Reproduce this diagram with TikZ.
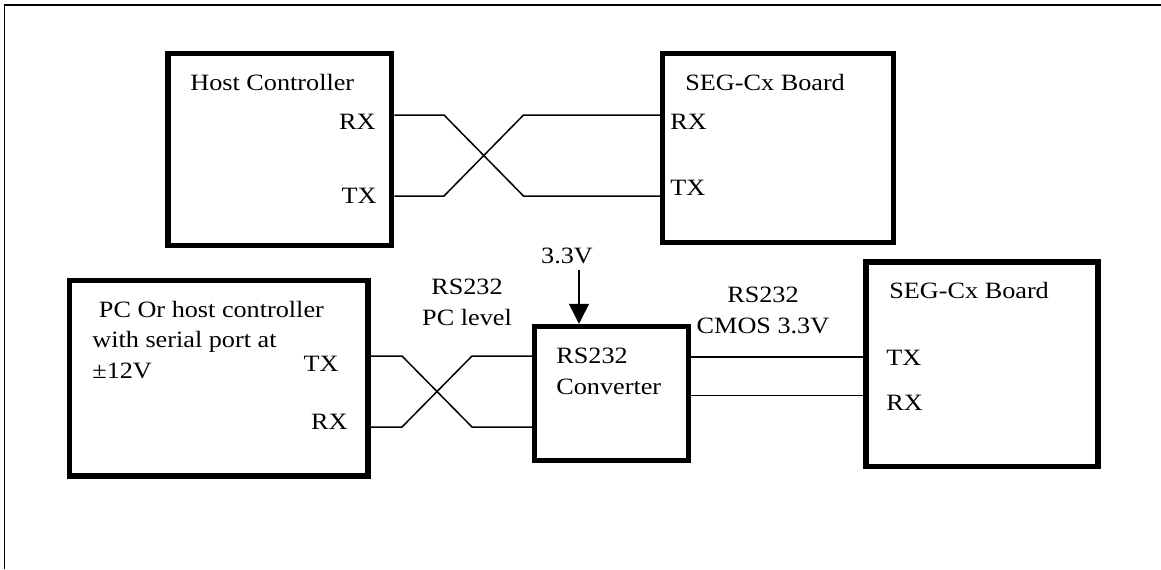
\documentclass[tikz,border=0pt]{standalone}
\usepackage{fontspec}
\setmainfont{Liberation Serif}[FakeStretch=1.12]
\usetikzlibrary{arrows.meta}

\tikzset{
    box/.style={draw, line width=2.75pt, inner sep=0pt},
    wire/.style={line width=0.75pt},
    lbl/.style={inner sep=0pt, font=\fontsize{11.7}{15.25}\selectfont},
}

\begin{document}
\begin{tikzpicture}[x=0.5pt, y=-0.5pt]
    \useasboundingbox (0,0) rectangle (1161,569);
    % frame
    \draw[line width=0.75pt] (4.5,569) -- (4.5,5) -- (1161,5);

    % upper link
    \node[box, minimum width=111.75pt, minimum height=96pt] (host) at (279.75,149.5) {};
    \node[box, minimum width=115.5pt, minimum height=94.5pt] (segtop) at (778,148) {};
    \node[lbl, anchor=base west] (hostname) at (190,90.7) {Host Controller};
    \node[lbl, anchor=base east] (hostrx) at (376,129) {RX};
    \node[lbl, anchor=base east] (hosttx) at (377,203) {TX};
    \node[lbl, anchor=base west] (segtopname) at (685,90.7) {SEG-Cx Board};
    \node[lbl, anchor=base west] (segtoprx) at (670,129) {RX};
    \node[lbl, anchor=base west] (segtoptx) at (670,195) {TX};
    \coordinate (a1) at (444,115);
    \coordinate (a2) at (523.5,196);
    \coordinate (b1) at (444,196);
    \coordinate (b2) at (523.5,115);
    \draw[wire] (host.east |- a1) -- (a1) -- (a2) -- (segtop.west |- a2);
    \draw[wire] (host.east |- b1) -- (b1) -- (b2) -- (segtop.west |- b2);

    % lower link
    \node[box, minimum width=149.25pt, minimum height=97.75pt] (pc) at (218.75,378.25) {};
    \node[box, minimum width=77pt, minimum height=67pt] (conv) at (611.5,393.5) {};
    \node[box, minimum width=116pt, minimum height=102.25pt] (segbot) at (982,364.25) {};
    \node[lbl, anchor=base west, align=left] (pcname) at (92,378)
        {\ PC Or host controller\\with serial port at\\±12V};
    \node[lbl, anchor=base east] (pctx) at (339,371) {TX};
    \node[lbl, anchor=base east] (pcrx) at (348,429) {RX};
    \node[lbl, anchor=base west, align=left] (convname) at (556,394) {RS232\\Converter};
    \node[lbl, anchor=base west] (segbotname) at (889,298) {SEG-Cx Board};
    \node[lbl, anchor=base west] (segbottx) at (886,365) {TX};
    \node[lbl, anchor=base west] (segbotrx) at (886,410) {RX};
    \node[lbl, anchor=base, align=center] (pclevel) at (467,325) {RS232\\PC level};
    \node[lbl, anchor=base, align=center] (cmoslevel) at (763,333) {RS232\\CMOS 3.3V};
    \coordinate (c1) at (402,356);
    \coordinate (c2) at (472,427);
    \coordinate (d1) at (402,427);
    \coordinate (d2) at (472,356);
    \draw[wire] (pc.east |- c1) -- (c1) -- (c2) -- (conv.west |- c2);
    \draw[wire] (pc.east |- d1) -- (d1) -- (d2) -- (conv.west |- d2);
    \coordinate (tx) at (777,357);
    \coordinate (rx) at (777,395.7);
    \draw[wire] (conv.east |- tx) -- (segbot.west |- tx);
    \draw[wire] (conv.east |- rx) -- (segbot.west |- rx);

    % supply
    \node[lbl, anchor=base] (vlbl) at (567,263) {3.3V};
    \coordinate (vin) at (579,270);
    \draw[wire, -{Triangle[length=10pt, width=10pt]}] (vin) -- (vin |- conv.north);
\end{tikzpicture}
\end{document}
